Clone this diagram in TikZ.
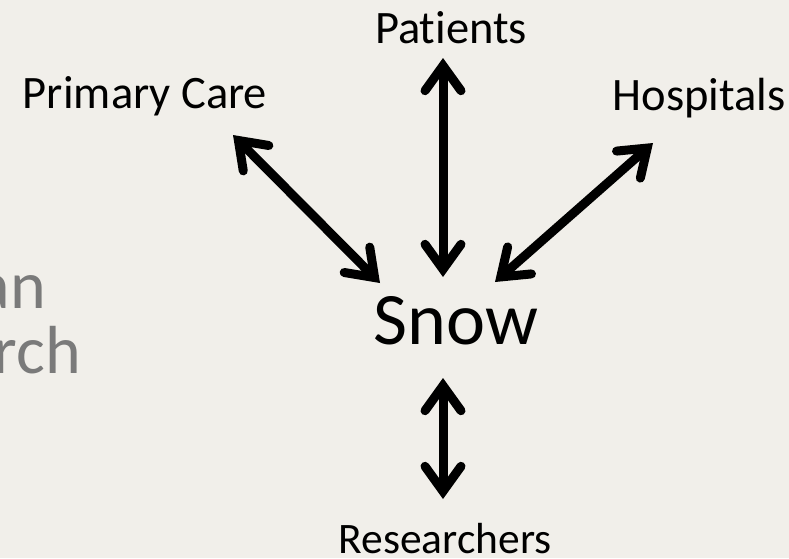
\documentclass[tikz,border=0pt]{standalone}
\usepackage{fontspec}
\setmainfont{Carlito}[Ligatures=NoCommon]
\usetikzlibrary{arrows.meta}
\definecolor{paper}{RGB}{241,239,234}
\definecolor{titlegray}{RGB}{122,122,122}
\tikzset{
	party/.style={font=\fontsize{46.5}{54}\selectfont, inner sep=0pt, anchor=base, text depth=0pt},
	hub/.style={font=\fontsize{74}{84}\selectfont, inner sep=0pt, anchor=base},
	faded/.style={font=\fontsize{68}{80}\selectfont, inner sep=0pt, anchor=base east, text=titlegray},
	barb/.tip={Straight Barb[length=25pt,width=36pt,line cap=round,line join=miter]},
	link/.style={line width=9pt, line cap=round, barb-barb,
		preaction={draw=black, opacity=0.15, transform canvas={shift={(2pt,-2.5pt)}}}},
}
\begin{document}
\begin{tikzpicture}[x=1pt, y=-1pt]
	% page, in pixels of the slide (y down)
	\useasboundingbox (0, 0) rectangle (789, 558);
	\clip (0, 0) rectangle (789, 558);
	\fill[paper] (0, 0) rectangle (789, 558);

	\node[faded] (titleA) at (46, 308) {an};
	\node[faded] (titleB) at (81, 373) {rch};

	\node[hub] (snow) at (456, 344) {Snow};
	\node[party] (pat) at (451, 43) {Patients};
	\node[party] (pc) at (145, 108) {Primary Care};
	\node[party] (hos) at (699, 110) {Hospitals};
	\node[party, font=\fontsize{43.5}{52}\selectfont] (res) at (445, 553) {Researchers};

	% arrow ends
	\coordinate (pc-a) at (233, 135);
	\coordinate (pc-b) at (380, 283);
	\coordinate (pat-a) at (443, 58);
	\coordinate (pat-b) at (443, 277);
	\coordinate (hos-a) at (653, 143);
	\coordinate (hos-b) at (495, 282);
	\coordinate (res-a) at (443, 378);
	\coordinate (res-b) at (443, 499);

	\draw[link] (pc-a) -- (pc-b);
	\draw[link] (pat-a) -- (pat-b);
	\draw[link] (hos-a) -- (hos-b);
	\draw[link] (res-a) -- (res-b);
\end{tikzpicture}
\end{document}
